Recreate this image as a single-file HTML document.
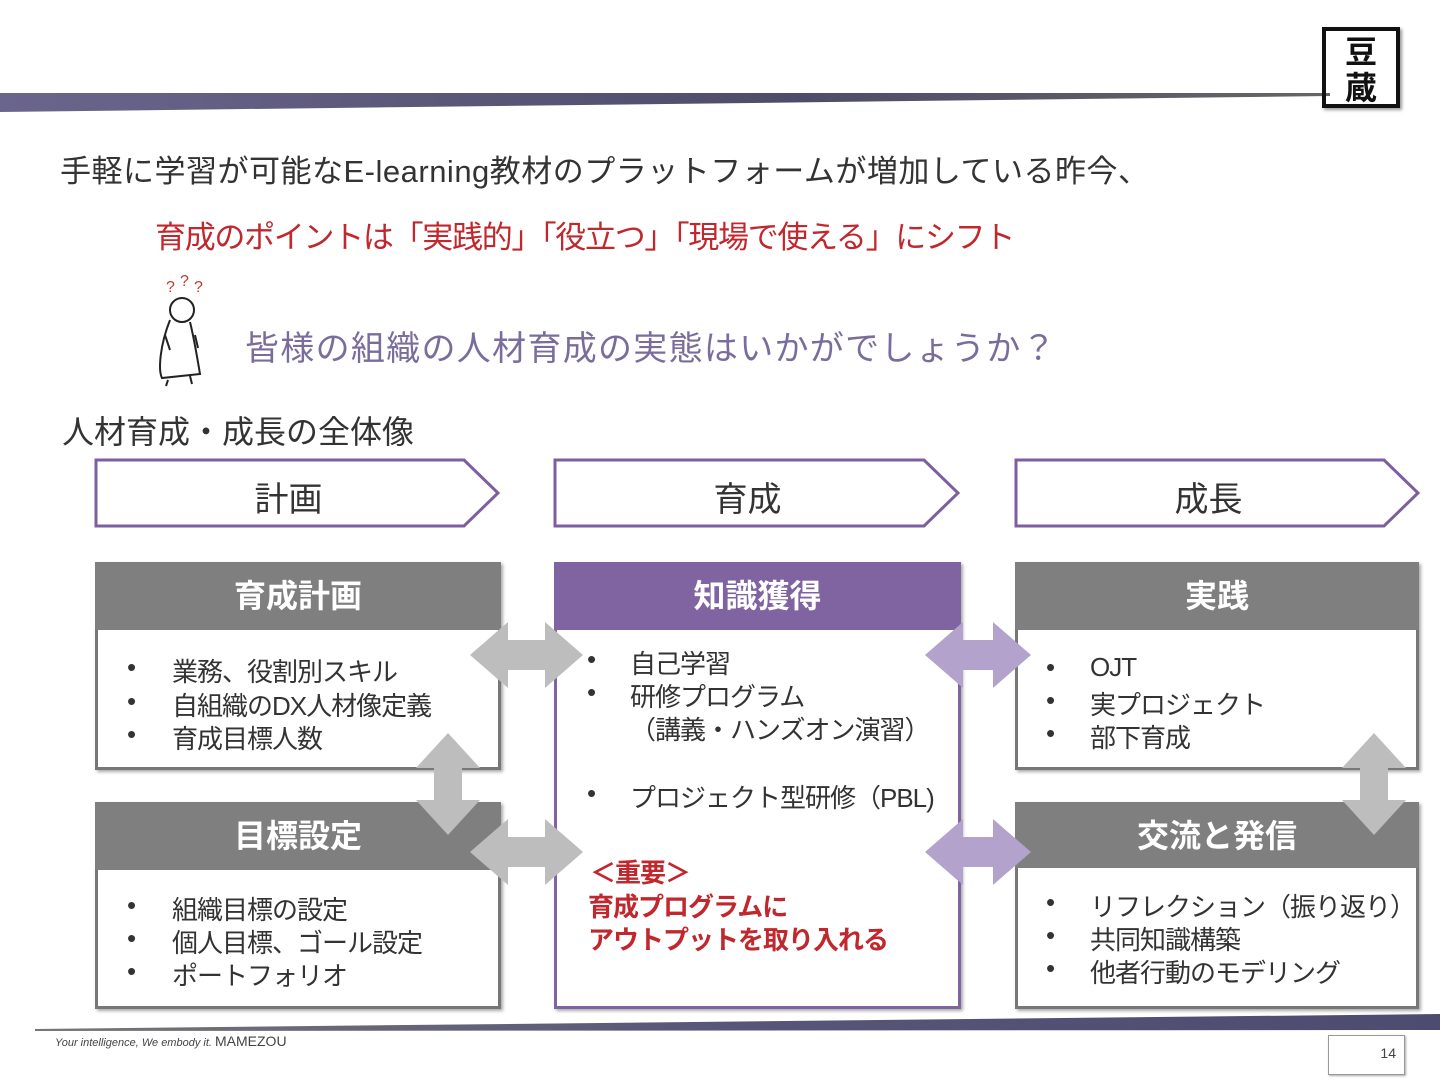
<!DOCTYPE html>
<html><head><meta charset="utf-8">
<style>
*{margin:0;padding:0;box-sizing:border-box}
body{width:1440px;height:1081px;background:#fff;position:relative;overflow:hidden;font-family:"Liberation Sans","Noto Sans CJK JP",sans-serif;color:#333}
.a{position:absolute;white-space:nowrap}
.hdr{position:absolute;color:#fff;font-weight:bold;font-size:32px;text-align:center;line-height:68px}
.box{position:absolute;background:#fff;border:3px solid #777;box-shadow:2px 2px 3px #aaa}
.li{position:absolute;font-size:26px;letter-spacing:-1px;color:#333;white-space:nowrap}
</style></head><body>
<svg class="a" style="left:0;top:0" width="1440" height="1081">
<defs>
<linearGradient id="g1" x1="0" x2="1"><stop offset="0" stop-color="#5a5480"/><stop offset="0.6" stop-color="#3b3858"/><stop offset="1" stop-color="#555"/></linearGradient>
<linearGradient id="g2" x1="0" x2="1"><stop offset="0" stop-color="#666"/><stop offset="0.5" stop-color="#45426a"/><stop offset="1" stop-color="#3a3760"/></linearGradient>
</defs>
<polygon points="0,93 1330,93 1330,96 0,112" fill="url(#g1)" opacity="0.9"/>
<polygon points="35,1029 1440,1014 1440,1030 35,1031" fill="url(#g2)" opacity="0.9"/>
<g fill="#fff" stroke="#7d5fa0" stroke-width="3">
<polygon points="96,460 464,460 498,493 464,526 96,526"/>
<polygon points="555,460 924,460 958,493 924,526 555,526"/>
<polygon points="1016,460 1384,460 1418,493 1384,526 1016,526"/>
</g>
<g fill="none" stroke="#222" stroke-width="2">
<circle cx="182" cy="310" r="12"/>
<path d="M170 320 C160 345,158 370,162 378 L200 374 C196 350,192 330,190 322"/>
<path d="M168 380 L166 386 M190 376 L192 384"/>
<path d="M165 335 L170 350 M195 335 L198 348"/>
</g>
<text x="166" y="292" font-size="16" fill="#c0392b" font-family="Liberation Sans">?</text>
<text x="180" y="286" font-size="16" fill="#c0392b" font-family="Liberation Sans">?</text>
<text x="194" y="292" font-size="16" fill="#c0392b" font-family="Liberation Sans">?</text>
</svg>

<div class="a" style="left:1322px;top:27px;width:78px;height:81px;border:4px solid #111;box-shadow:2px 2px 3px #999;font-weight:bold;font-size:32px;line-height:36px;text-align:center;padding-top:3px;color:#111">豆<br>蔵</div>

<div class="a" style="left:60px;top:146px;font-size:31px;letter-spacing:0.5px;color:#333">手軽に学習が可能なE-learning教材のプラットフォームが増加している昨今、</div>
<div class="a" style="left:155px;top:212px;font-size:31px;letter-spacing:-1.3px;color:#c0282d">育成のポイントは「実践的」「役立つ」「現場で使える」にシフト</div>
<div class="a" style="left:245px;top:321px;font-size:34px;letter-spacing:1.3px;color:#7a6d9c">皆様の組織の人材育成の実態はいかがでしょうか？</div>
<div class="a" style="left:62px;top:407px;font-size:32px;color:#333">人材育成・成長の全体像</div>

<div class="a" style="left:96px;top:472px;width:385px;text-align:center;font-size:34px">計画</div>
<div class="a" style="left:555px;top:472px;width:385px;text-align:center;font-size:34px">育成</div>
<div class="a" style="left:1016px;top:472px;width:385px;text-align:center;font-size:34px">成長</div>

<div class="box" style="left:95px;top:562px;width:406px;height:208px"></div>
<div class="hdr" style="left:95px;top:562px;width:406px;height:68px;background:#7f7f7f">育成計画</div>
<div class="box" style="left:95px;top:802px;width:406px;height:207px"></div>
<div class="hdr" style="left:95px;top:802px;width:406px;height:68px;background:#7f7f7f">目標設定</div>
<div class="box" style="left:554px;top:562px;width:407px;height:447px;border-color:#8064a2"></div>
<div class="hdr" style="left:554px;top:562px;width:407px;height:68px;background:#8064a2">知識獲得</div>
<div class="box" style="left:1015px;top:562px;width:404px;height:208px"></div>
<div class="hdr" style="left:1015px;top:562px;width:404px;height:68px;background:#7f7f7f">実践</div>
<div class="box" style="left:1015px;top:802px;width:404px;height:207px"></div>
<div class="hdr" style="left:1015px;top:802px;width:404px;height:66px;background:#7f7f7f">交流と発信</div>

<svg class="a" style="left:0;top:0" width="1440" height="1081">
<g fill="#bdbdbd">
<polygon points="470,655 508,622 508,640 545,640 545,622 583,655 545,688 545,670 508,670 508,688"/>
<polygon points="470,852 508,819 508,837 545,837 545,819 583,852 545,885 545,867 508,867 508,885"/>
<polygon points="448,733 480,768 462,768 462,800 480,800 448,835 416,800 434,800 434,768 416,768"/>
<polygon points="1374,733 1406,768 1388,768 1388,800 1406,800 1374,835 1342,800 1360,800 1360,768 1342,768"/>
</g>
<g fill="#b3a2cc">
<polygon points="925,655 963,622 963,640 993,640 993,622 1031,655 993,688 993,670 963,670 963,688"/>
<polygon points="925,852 963,819 963,837 993,837 993,819 1031,852 993,885 993,867 963,867 963,885"/>
</g>
</svg>

<div class="li" style="left:127px;top:652px">•</div><div class="li" style="left:172px;top:652px">業務、役割別スキル</div>
<div class="li" style="left:127px;top:686px">•</div><div class="li" style="left:172px;top:686px">自組織のDX人材像定義</div>
<div class="li" style="left:127px;top:719px">•</div><div class="li" style="left:172px;top:719px">育成目標人数</div>
<div class="li" style="left:127px;top:890px">•</div><div class="li" style="left:172px;top:890px">組織目標の設定</div>
<div class="li" style="left:127px;top:923px">•</div><div class="li" style="left:172px;top:923px">個人目標、ゴール設定</div>
<div class="li" style="left:127px;top:956px">•</div><div class="li" style="left:172px;top:956px">ポートフォリオ</div>
<div class="li" style="left:587px;top:644px">•</div><div class="li" style="left:630px;top:644px">自己学習</div>
<div class="li" style="left:587px;top:677px">•</div><div class="li" style="left:630px;top:677px">研修プログラム</div>
<div class="li" style="left:630px;top:710px">（講義・ハンズオン演習）</div>
<div class="li" style="left:587px;top:778px">•</div><div class="li" style="left:630px;top:778px">プロジェクト型研修（PBL)</div>
<div class="li" style="left:590px;top:853px;color:#c0282d;font-weight:bold">＜重要＞</div>
<div class="li" style="left:588px;top:887px;color:#c0282d;font-weight:bold">育成プログラムに</div>
<div class="li" style="left:588px;top:920px;color:#c0282d;font-weight:bold">アウトプットを取り入れる</div>
<div class="li" style="left:1046px;top:652px">•</div><div class="li" style="left:1090px;top:652px">OJT</div>
<div class="li" style="left:1046px;top:685px">•</div><div class="li" style="left:1090px;top:685px">実プロジェクト</div>
<div class="li" style="left:1046px;top:718px">•</div><div class="li" style="left:1090px;top:718px">部下育成</div>
<div class="li" style="left:1046px;top:887px">•</div><div class="li" style="left:1090px;top:887px">リフレクション（振り返り）</div>
<div class="li" style="left:1046px;top:920px">•</div><div class="li" style="left:1090px;top:920px">共同知識構築</div>
<div class="li" style="left:1046px;top:953px">•</div><div class="li" style="left:1090px;top:953px">他者行動のモデリング</div>

<div class="a" style="left:55px;top:1033px;font-size:11px;font-style:italic;color:#444">Your intelligence, We embody it. <span style="font-style:normal;font-size:14px">MAMEZOU</span></div>
<div class="a" style="left:1328px;top:1035px;width:77px;height:40px;border:1px solid #999;box-shadow:1px 1px 2px #aaa;font-size:14px;text-align:right;padding:9px 8px 0 0;color:#444">14</div>
</body></html>
